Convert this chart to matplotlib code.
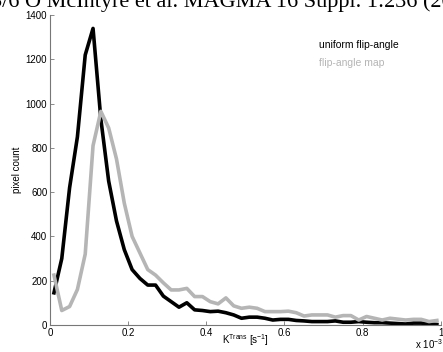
import numpy as np
import matplotlib.pyplot as plt

plt.rcParams['font.family'] = ['Liberation Sans', 'DejaVu Sans']

# bin centres of the K-trans histogram (x 10^-3)
ktrans = np.arange(0.01, 1.0, 0.02)

uniform_counts = [145, 300, 620, 850, 1220, 1340, 930, 650, 470, 340,
                  250, 210, 180, 180, 130, 105, 80, 100, 68, 65,
                  60, 62, 55, 45, 30, 35, 35, 30, 22, 25,
                  25, 20, 18, 15, 15, 15, 18, 12, 12, 15,
                  12, 10, 10, 8, 6, 4, 8, 8, 5, 2]
map_counts = [225, 65, 83, 160, 320, 810, 965, 890, 750, 550,
              400, 325, 250, 225, 190, 158, 158, 165, 128, 128,
              105, 95, 122, 86, 75, 80, 75, 60, 60, 60,
              62, 55, 40, 45, 45, 45, 35, 42, 42, 22,
              38, 30, 22, 30, 26, 22, 25, 25, 15, 20]

fig = plt.figure(figsize=(4.43, 3.52), dpi=100)
ax = fig.add_axes([0.113, 0.077, 0.882, 0.88])

ax.plot(ktrans, uniform_counts, color='black', linewidth=2.6)
ax.plot(ktrans, map_counts, color='#b5b5b5', linewidth=2.6)

ax.set_xlim(0, 1)
ax.set_ylim(0, 1400)
ax.set_xticks([0, 0.2, 0.4, 0.6, 0.8, 1])
ax.set_xticklabels(['0', '0.2', '0.4', '0.6', '0.8', '1'])
ax.set_yticks(range(0, 1401, 200))
ax.tick_params(direction='in', length=3, width=0.6, color='#777777',
               labelsize=7, pad=2)
for side in ['top', 'right']:
    ax.spines[side].set_visible(False)
for side in ['left', 'bottom']:
    ax.spines[side].set_color('#777777')
    ax.spines[side].set_linewidth(0.8)

ax.set_xlabel('K$^{\\mathregular{Trans}}$ [s$^{\\mathregular{-1}}$]', fontsize=7)
ax.xaxis.set_label_coords(0.5, -0.022)
ax.set_ylabel('pixel count', fontsize=7, labelpad=3)

ax.text(0.688, 0.903, 'uniform flip-angle', transform=ax.transAxes,
        fontsize=7.5, color='black', va='center')
ax.text(0.688, 0.845, 'flip-angle map', transform=ax.transAxes,
        fontsize=7.5, color='#b5b5b5', va='center')

fig.text(0.937, 0.008, 'x 10$^{\\mathregular{-3}}$', fontsize=7)

# cropped citation line at the very top of the page
fig.text(-0.02, 0.981, '5/6 O McIntyre et al. MAGMA 16 Suppl. 1:236 (2003)',
         family='Liberation Serif', fontsize=16, va='baseline')

fig.savefig('out.png', dpi=100)
